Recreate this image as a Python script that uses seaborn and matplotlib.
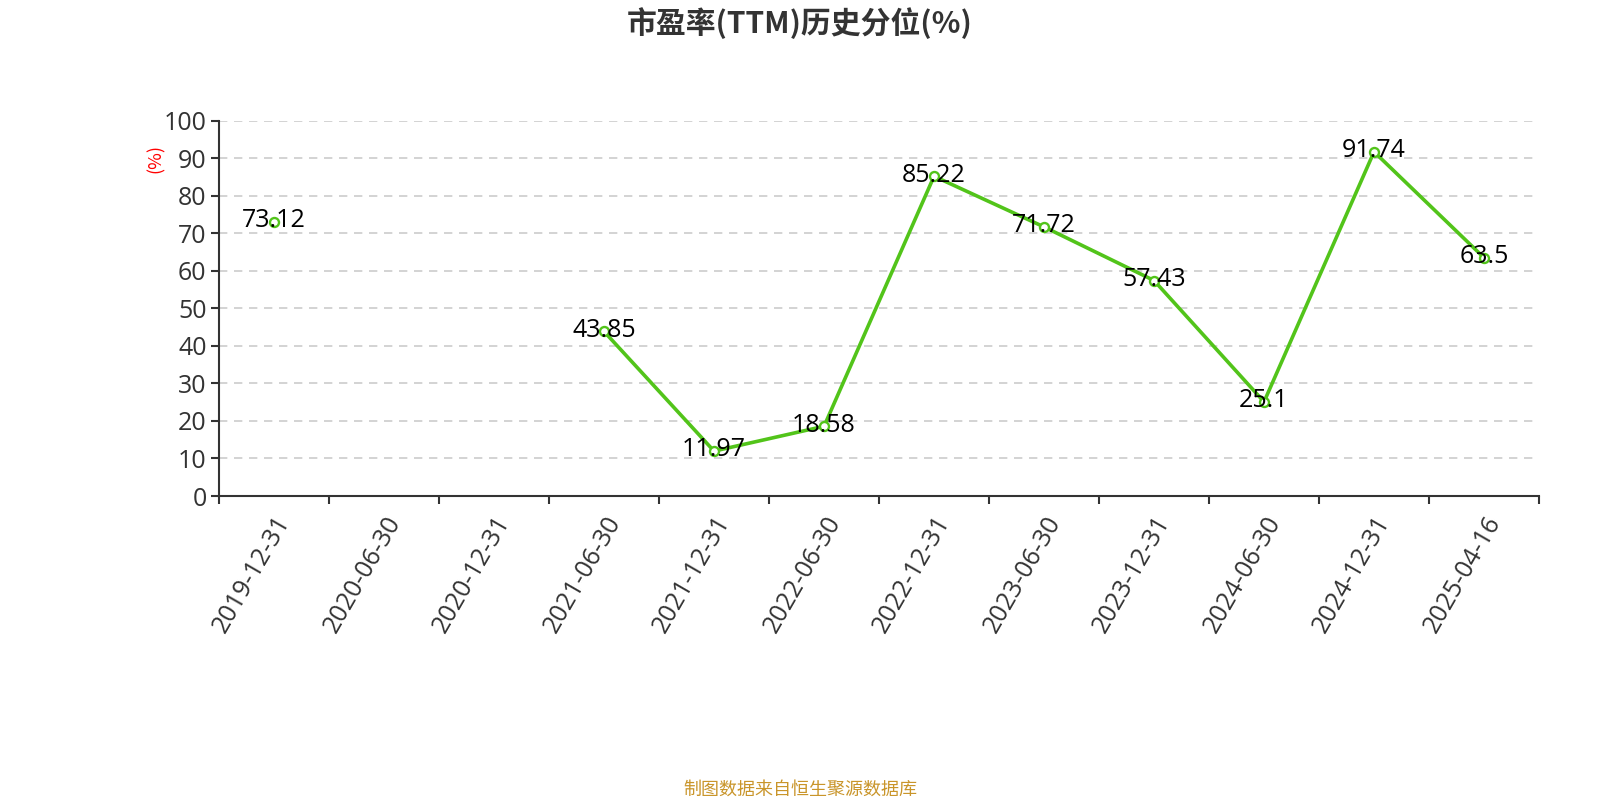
import numpy as np
import pandas as pd
import seaborn as sns
import matplotlib.pyplot as plt
from matplotlib.ticker import FixedLocator

dates = ["2019-12-31", "2020-06-30", "2020-12-31", "2021-06-30", "2021-12-31", "2022-06-30",
         "2022-12-31", "2023-06-30", "2023-12-31", "2024-06-30", "2024-12-31", "2025-04-16"]
values = [73.12, np.nan, np.nan, 43.85, 11.97, 18.58, 85.22, 71.72, 57.43, 25.1, 91.74, 63.5]

df = pd.DataFrame({"date": dates, "value": values})
df["pos"] = np.arange(len(df))
# the line is broken where values are missing: give each run its own segment id
df["seg"] = df["value"].isna().cumsum()
pts = df.dropna()

sns.set_style("white")
plt.rcParams["font.family"] = ["Open Sans", "Noto Sans CJK SC", "DejaVu Sans"]
cjk = ["Noto Sans CJK SC", "DejaVu Sans"]

green = "#52c41a"
fig = plt.figure(figsize=(16, 8), dpi=100)
ax = fig.add_axes([0.1369, 0.38, 0.825, 0.469])

sns.lineplot(data=pts, x="pos", y="value", units="seg", estimator=None,
             color=green, linewidth=2.6, ax=ax)
sns.scatterplot(data=pts, x="pos", y="value", s=42, color="white",
                edgecolor=green, linewidth=1.7, zorder=5, ax=ax)

for _, r in pts.iterrows():
    ax.text(r["pos"], r["value"] + 0.3, f"{r['value']:g}", ha="center", va="center",
            fontsize=18, color="#000000", zorder=6)

ax.set_xlim(-0.5, len(dates) - 0.5)
ax.set_ylim(0, 100)
ax.set_yticks(np.arange(0, 101, 10))
ax.set_xticks(df["pos"])
ax.set_xticklabels(dates, rotation=60, ha="right", rotation_mode="anchor")
ax.xaxis.set_minor_locator(FixedLocator(np.arange(-0.5, len(dates), 1)))
ax.tick_params(axis="x", which="major", length=0, pad=11, labelsize=18, labelcolor="#333333")
ax.tick_params(axis="x", which="minor", bottom=True, length=6, width=1.5,
               color="#333333", direction="out")
ax.tick_params(axis="y", length=6, width=1.5, color="#333333", labelsize=18,
               labelcolor="#333333", direction="out", pad=3, left=True)
ax.yaxis.grid(True, linestyle=(0, (5, 4)), color="#cccccc", linewidth=1.2)
ax.xaxis.grid(False)
ax.set_axisbelow(True)

for side in ["top", "right"]:
    ax.spines[side].set_visible(False)
for side in ["left", "bottom"]:
    ax.spines[side].set_color("#333333")
    ax.spines[side].set_linewidth(1.5)

ax.set_xlabel("")
ax.set_ylabel("")
fig.text(0.0975, 0.802, "(%)", color="red", fontsize=13, rotation=90,
         ha="center", va="center", family=cjk)

fig.text(0.5, 0.971, "市盈率(TTM)历史分位(%)", ha="center", va="center",
         fontsize=21.5, fontweight="bold", color="#333333", family=cjk)
fig.text(0.5, 0.013, "制图数据来自恒生聚源数据库", ha="center", va="center",
         fontsize=13, color="#c9952a", family=cjk)

fig.savefig("out.png", dpi=100)
